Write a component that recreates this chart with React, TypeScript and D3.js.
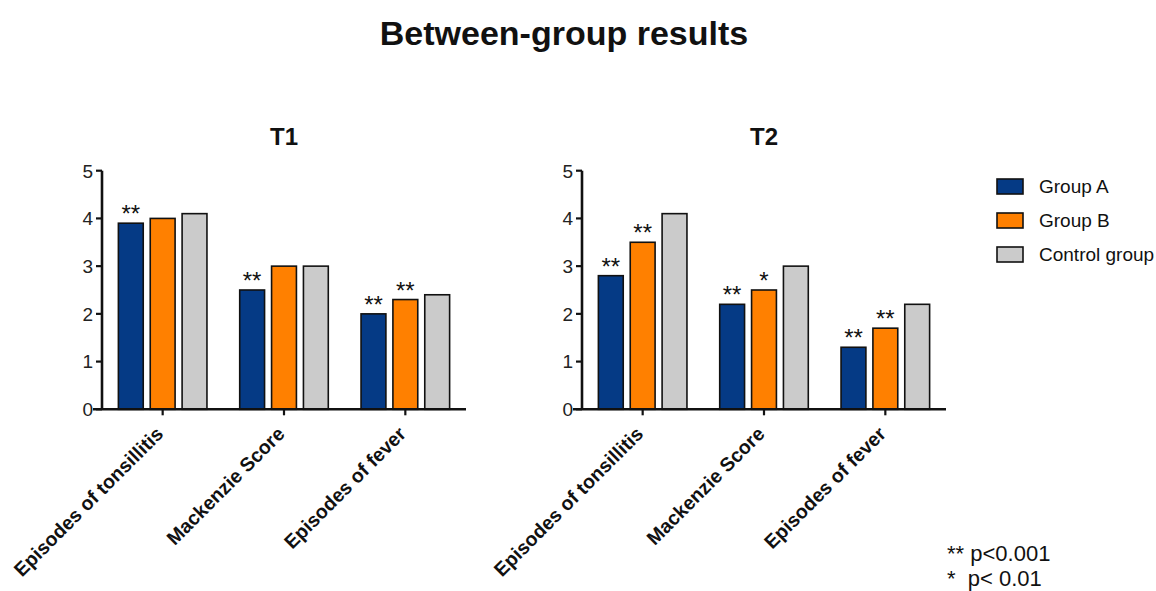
import React from "react";
import * as d3 from "d3";

const categories = ["Episodes of tonsillitis", "Mackenzie Score", "Episodes of fever"];
const seriesNames = ["Group A", "Group B", "Control group"];
const seriesColors = ["#053a85", "#ff8000", "#cbcbcb"];
const yTicks = [0, 1, 2, 3, 4, 5];

const t1GroupA = [3.9, 2.5, 2.0];
const t1GroupB = [4.0, 3.0, 2.3];
const t1Control = [4.1, 3.0, 2.4];
const t1StarsA = ["**", "**", "**"];
const t1StarsB = ["", "", "**"];

const t2GroupA = [2.8, 2.2, 1.3];
const t2GroupB = [3.5, 2.5, 1.7];
const t2Control = [4.1, 3.0, 2.2];
const t2StarsA = ["**", "**", "**"];
const t2StarsB = ["**", "*", "**"];

const panels = [
  { title: "T1", values: [t1GroupA, t1GroupB, t1Control], stars: [t1StarsA, t1StarsB, ["", "", ""]], x0: 102 },
  { title: "T2", values: [t2GroupA, t2GroupB, t2Control], stars: [t2StarsA, t2StarsB, ["", "", ""]], x0: 582 },
];

const FONT = "Arial, 'Liberation Sans', Helvetica, sans-serif";

function Panel({ p }: { p: (typeof panels)[number] }) {
  const left = p.x0;
  const right = p.x0 + 364;
  const top = 170.7;
  const bottom = 409.3;
  const y = d3.scaleLinear().domain([0, 5]).range([bottom, top]);
  const x = d3.scaleBand<string>().domain(categories).range([left, right]).paddingInner(0.27).paddingOuter(0.135);
  const xi = d3.scaleBand<string>().domain(seriesNames).range([0, x.bandwidth()]).paddingInner(0.22);
  return (
    <g>
      <text x={(left + right) / 2} y={145} textAnchor="middle" fontWeight="bold" fontSize={24} fontFamily={FONT} fill="#111">
        {p.title}
      </text>
      {categories.map((c, ci) =>
        seriesNames.map((s, si) => {
          const v = p.values[si][ci];
          const bx = (x(c) as number) + (xi(s) as number);
          const star = p.stars[si][ci];
          return (
            <g key={c + s}>
              <rect x={bx} y={y(v)} width={xi.bandwidth()} height={bottom - y(v)} fill={seriesColors[si]} stroke="#111" strokeWidth={1.6} />
              {star && (
                <text x={bx + xi.bandwidth() / 2} y={y(v) - 1} textAnchor="middle" fontSize={24} fontFamily={FONT} fill="#111">
                  {star}
                </text>
              )}
            </g>
          );
        })
      )}
      <line x1={left} x2={left} y1={top} y2={bottom} stroke="#111" strokeWidth={2.6} />
      <line x1={left - 9} x2={right} y1={bottom} y2={bottom} stroke="#111" strokeWidth={2.6} />
      {yTicks.map((t) => (
        <g key={t}>
          <line x1={left - 6} x2={left} y1={y(t)} y2={y(t)} stroke="#111" strokeWidth={2.2} />
          <text x={left - 9} y={y(t)} dy="0.36em" textAnchor="end" fontSize={19} fontFamily={FONT} fill="#222">
            {t}
          </text>
        </g>
      ))}
      {categories.map((c) => {
        const cx = (x(c) as number) + x.bandwidth() / 2;
        return (
          <g key={c}>
            <line x1={cx} x2={cx} y1={bottom} y2={bottom + 6} stroke="#111" strokeWidth={2.2} />
            <text
              transform={`translate(${cx - 3},${bottom + 21}) rotate(-45)`}
              textAnchor="end"
              dy="0.35em"
              fontWeight="bold"
              fontSize={19.5}
              fontFamily={FONT}
              fill="#111"
            >
              {c}
            </text>
          </g>
        );
      })}
    </g>
  );
}

export default function App() {
  return (
    <svg width={1156} height={591} style={{ position: "absolute", left: 0, top: 0, background: "#fff" }}>
      <rect width={1156} height={591} fill="#fff" />
      <text x={564} y={45} textAnchor="middle" fontWeight="bold" fontSize={34} fontFamily={FONT} fill="#111">
        Between-group results
      </text>
      {panels.map((p) => (
        <Panel key={p.title} p={p} />
      ))}
      {seriesNames.map((s, i) => (
        <g key={s} transform={`translate(997,${179 + i * 34})`}>
          <rect x={0} y={0} width={26} height={15} fill={seriesColors[i]} stroke="#111" strokeWidth={1.6} />
          <text x={42} y={7.5} dy="0.36em" fontSize={19} fontFamily={FONT} fill="#111">
            {s}
          </text>
        </g>
      ))}
      <text x={947} y={561} fontSize={22} fontFamily={FONT} fill="#111">** p&lt;0.001</text>
      <text x={947} y={586} fontSize={22} fontFamily={FONT} fill="#111" xmlSpace="preserve">*  p&lt; 0.01</text>
    </svg>
  );
}
